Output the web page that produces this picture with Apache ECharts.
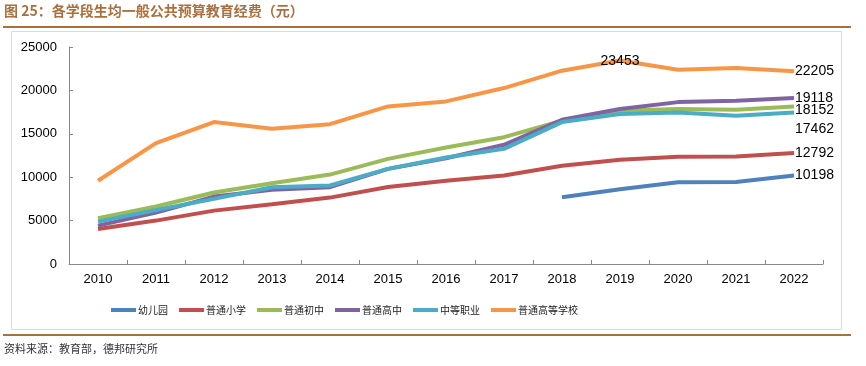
<!DOCTYPE html>
<html><head><meta charset="utf-8">
<script src="https://cdn.jsdelivr.net/npm/echarts@6/dist/echarts.min.js"></script>
<style>html,body{margin:0;padding:0;background:#fff}#c{width:866px;height:366px}</style>
</head><body><div id="c"></div>
<script>
const years = ['2010','2011','2012','2013','2014','2015','2016','2017','2018','2019','2020','2021','2022'];
const kindergarten = [null,null,null,null,null,null,null,null,7690,8620,9420,9460,10198];
const primary = [4040,5000,6150,6880,7650,8880,9580,10190,11310,12000,12350,12380,12792];
const juniorHigh = [5270,6620,8230,9300,10300,12110,13420,14610,16500,17650,17850,17770,18152];
const seniorHigh = [4420,5920,7770,8540,8850,10960,12190,13730,16610,17850,18650,18800,19118];
const vocational = [4880,6230,7500,8840,9040,10960,12270,13270,16350,17270,17460,17080,17462];
const higher = [9590,13920,16350,15580,16110,18150,18730,20270,22270,23453,22380,22580,22205];
const yTicks = [0,5000,10000,15000,20000,25000];

const names = ['幼儿园','普通小学','普通初中','普通高中','中等职业','普通高等学校'];
const colors = ['#4F81BD','#C0504D','#9BBB59','#8064A2','#4BACC6','#F79646'];
const datas = [kindergarten, primary, juniorHigh, seniorHigh, vocational, higher];
const labelOffsets = [[0,0],[0,0],[0,4],[0,0],[0,17],[0,0]];

const chart = echarts.init(document.getElementById('c'));
const lblFont = {color:'#000', fontSize:14, fontFamily:'Liberation Sans, Arial, sans-serif'};
const series = datas.map((d,i)=>({
  name: names[i], type:'line', data: d.map((v,j)=>{
    const item = {value: v};
    if (j === d.length-1) {
      item.label = Object.assign({show:true, position:'right', distance:1, offset: labelOffsets[i]}, lblFont);
    }
    if (i === 5 && j === 9) {
      item.label = Object.assign({show:true, position:'inside', offset:[0,1]}, lblFont);
    }
    return item;
  }),
  symbol:'circle', symbolSize:0.1, showSymbol:true, smooth:false,
  label:{show:false},
  lineStyle:{color:colors[i], width:4},
  itemStyle:{color:colors[i]},
  connectNulls:false, z: 2+i, silent:true
}));

chart.setOption({
  animation:false,
  backgroundColor:'#fff',
  graphic:[
    {type:'text', left:4, top:4, style:{text:'图 25：各学段生均一般公共预算教育经费（元）', fill:'#A8703F',
      font:'bold 14px "Noto Sans CJK SC", sans-serif'}},
    {type:'rect', shape:{x:3,y:26,width:848,height:2}, style:{fill:'#A8703F'}},
    {type:'rect', shape:{x:11.5,y:31.5,width:830,height:298}, style:{fill:'none', stroke:'#DADADA', lineWidth:1}},
    {type:'rect', shape:{x:3,y:334,width:848,height:2}, style:{fill:'#A8703F'}},
    {type:'text', left:4, top:343, style:{text:'资料来源：教育部，德邦研究所', fill:'#333',
      font:'11px "Noto Sans CJK SC", sans-serif'}}
  ],
  legend:{
    left:106, top:300, itemWidth:25, itemHeight:4, itemGap:11,
    icon:'rect',
    textStyle:{fontSize:10, color:'#222', fontFamily:'"Noto Sans CJK SC", sans-serif', padding:[0,0,0,-3]},
    data: names
  },
  grid:{left:69, right:43, top:47, bottom:102, containLabel:false},
  xAxis:{
    type:'category', data:years, boundaryGap:true,
    axisLine:{lineStyle:{color:'#888', width:1}},
    axisTick:{show:true, inside:true, length:4, alignWithLabel:false, lineStyle:{color:'#888'}},
    axisLabel:{color:'#000', fontSize:13, margin:9, fontFamily:'Liberation Sans, Arial, sans-serif'},
    splitLine:{show:false}
  },
  yAxis:{
    type:'value', min:0, max:25000, interval:5000,
    axisLine:{show:true, lineStyle:{color:'#888', width:1}},
    axisTick:{show:true, inside:true, length:4, lineStyle:{color:'#888'}},
    axisLabel:{color:'#000', fontSize:13, margin:12, fontFamily:'Liberation Sans, Arial, sans-serif',
      formatter: v => yTicks.includes(v) ? String(v) : ''},
    splitLine:{show:false}
  },
  series: series
});
</script></body></html>
